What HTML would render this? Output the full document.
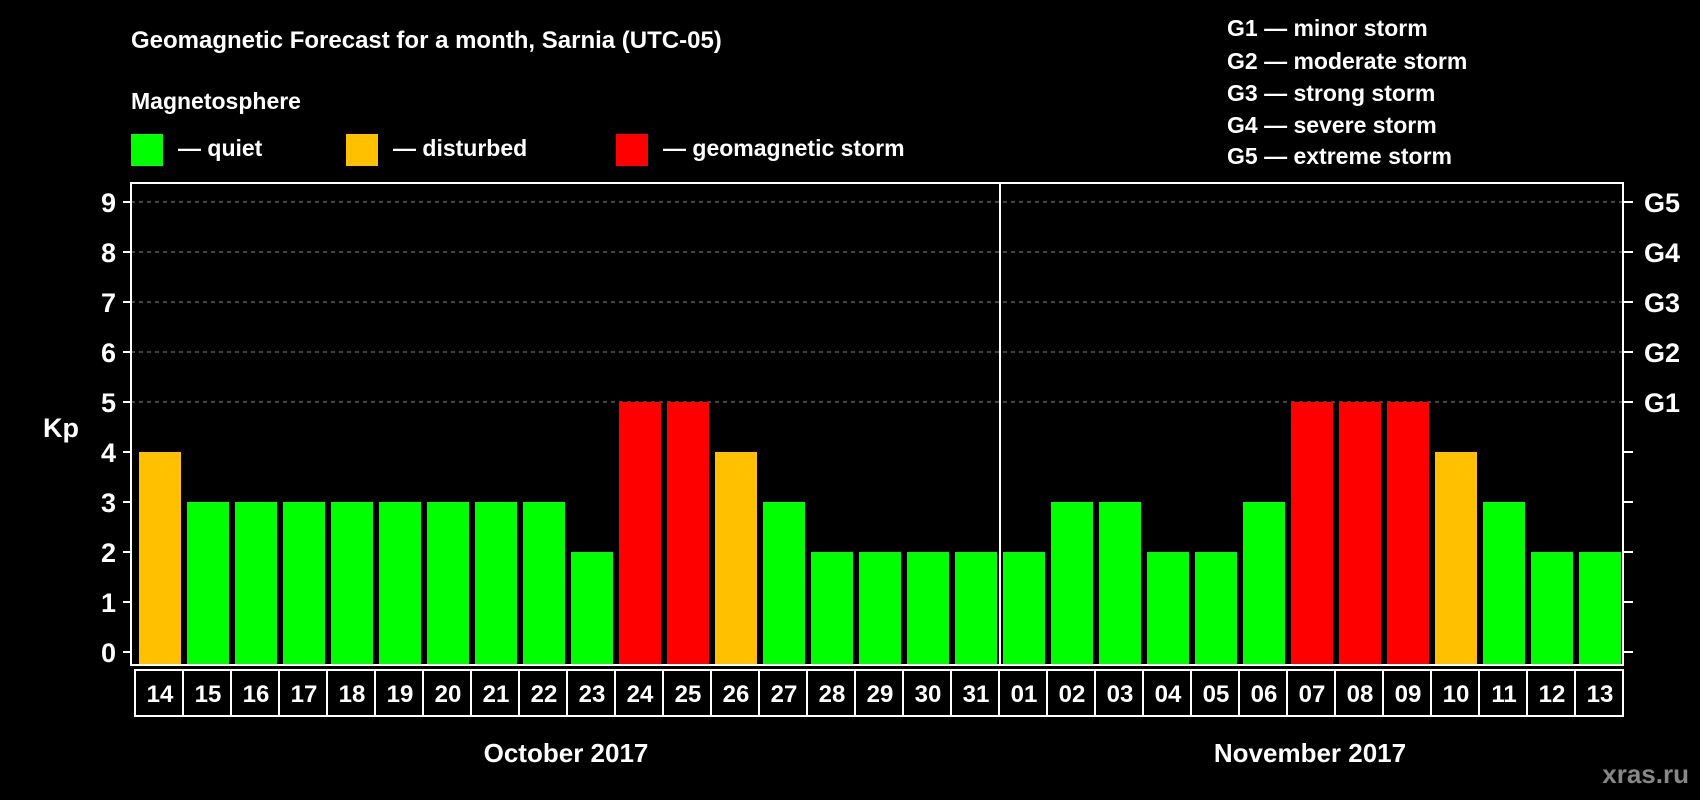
<!DOCTYPE html>
<html><head><meta charset="utf-8"><style>
body{margin:0;background:#000;}
svg{display:block;font-family:"Liberation Sans",Arial,sans-serif;font-weight:bold;}
</style></head><body>
<svg id="chart" width="1700" height="800" viewBox="0 0 1700 800">
<text x="131" y="48" fill="#fff" font-size="24">Geomagnetic Forecast for a month, Sarnia (UTC-05)</text>
<text x="131" y="109" fill="#fff" font-size="23">Magnetosphere</text>
<g><rect x="131" y="134" width="32" height="32" fill="#00ff00"/><text x="178" y="156" fill="#fff" font-size="23">— quiet</text></g>
<g><rect x="346" y="134" width="32" height="32" fill="#ffc000"/><text x="393" y="156" fill="#fff" font-size="23">— disturbed</text></g>
<g><rect x="616" y="134" width="32" height="32" fill="#ff0000"/><text x="663" y="156" fill="#fff" font-size="23">— geomagnetic storm</text></g>
<g fill="#fff" font-size="23">
<text x="1227" y="36">G1 — minor storm</text>
<text x="1227" y="69">G2 — moderate storm</text>
<text x="1227" y="101">G3 — strong storm</text>
<text x="1227" y="133">G4 — severe storm</text>
<text x="1227" y="164">G5 — extreme storm</text>
</g>
<text x="43" y="437" fill="#fff" font-size="27">Kp</text>
<g id="grid"></g><g id="bars"></g><g id="axes"></g><g id="dates"></g>
<text x="566" y="762" text-anchor="middle" fill="#fff" font-size="26">October 2017</text>
<text x="1310" y="762" text-anchor="middle" fill="#fff" font-size="26">November 2017</text>
<text x="1689" y="783" text-anchor="end" fill="#888" font-size="26">xras.ru</text>
</svg>
<script>
const days = ["14","15","16","17","18","19","20","21","22","23","24","25","26","27","28","29","30","31","01","02","03","04","05","06","07","08","09","10","11","12","13"];
const kp = [4,3,3,3,3,3,3,3,3,2,5,5,4,3,2,2,2,2,2,3,3,2,2,3,5,5,5,4,3,2,2];
const yTicks = [0,1,2,3,4,5,6,7,8,9];
const gLabels = ["G1","G2","G3","G4","G5"];
const NS="http://www.w3.org/2000/svg";
const L=131,R=1623,T=183,B=665,x0=139,pitch=48,bw=42;
const y=v=>652-v*50;
const xb=i=>x0+i*pitch;
function mk(t,a,p){const e=document.createElementNS(NS,t);for(const k in a)e.setAttribute(k,a[k]);p.appendChild(e);return e;}
const grid=document.getElementById('grid'),bars=document.getElementById('bars'),axes=document.getElementById('axes'),dates=document.getElementById('dates');
yTicks.forEach(v=>{
  if(v>=5){const g=mk('line',{x1:L,x2:R,y1:y(v),y2:y(v),stroke:'#888','stroke-dasharray':'4,4','stroke-width':1},grid);
  
  }
  const t=mk('line',{x1:L-8,x2:L,y1:y(v),y2:y(v),stroke:'#fff','stroke-width':2},axes);
  
  
  const tr=mk('line',{x1:R,x2:R+10,y1:y(v),y2:y(v),stroke:'#fff','stroke-width':2},axes);
  
  
  const lb=mk('text',{x:116,y:y(v)+10,'text-anchor':'end',fill:'#fff','font-size':27},axes);
  lb.textContent=v;
  
  
});
gLabels.forEach((g,i)=>{
  const t=mk('text',{x:1644,y:y(5+i)+10,fill:'#fff','font-size':27},axes);
  t.textContent=g;
  
  
});
kp.forEach((v,i)=>{
  const c=v>=5?'#ff0000':(v>=4?'#ffc000':'#00ff00');
  const r=mk('rect',{x:xb(i),y:y(v),width:bw,height:B-y(v)-1,fill:c},bars);
  
  
  const bx=mk('rect',{x:xb(i)-4,y:670,width:pitch,height:46,fill:'none',stroke:'#fff','stroke-width':2},dates);
  
  
  const t=mk('text',{x:xb(i)+bw/2,y:702,'text-anchor':'middle',fill:'#fff','font-size':24},dates);
  t.textContent=days[i];
  
  
});
const f=mk('rect',{x:L,y:T,width:R-L,height:B-T,fill:'none',stroke:'#fff','stroke-width':2},axes);


const sx=xb(18)-3;
const s=mk('line',{x1:sx,x2:sx,y1:T,y2:B,stroke:'#fff','stroke-width':2},axes);


</script>
</body></html>
